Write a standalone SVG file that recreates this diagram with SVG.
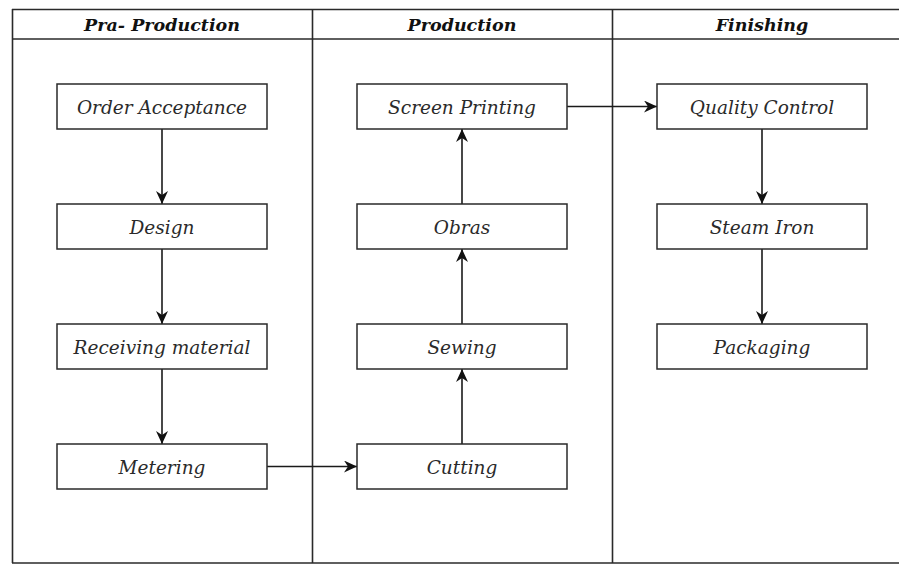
<svg xmlns="http://www.w3.org/2000/svg" width="899" height="565" viewBox="0 0 899 565">
<style>
.frame{stroke:#2a2a2a;stroke-width:1.6;fill:none}
.box{fill:#fff;stroke:#2a2a2a;stroke-width:1.5}
.lbl{font-family:"DejaVu Serif","Liberation Serif",serif;font-style:italic;font-size:18.5px;fill:#2a2a2a;text-anchor:middle}
.hdr{font-family:"DejaVu Serif","Liberation Serif",serif;font-style:italic;font-weight:bold;font-size:17.5px;fill:#111;text-anchor:middle}
.conn{stroke:#1a1a1a;stroke-width:1.6;fill:none;marker-end:url(#ah)}
</style>
<defs>
<marker id="ah" viewBox="0 0 13 12" refX="13" refY="6" markerWidth="13" markerHeight="12" markerUnits="userSpaceOnUse" orient="auto">
<path d="M0,0 L13,6 L0,12 L4,6 Z" fill="#111"/>
</marker>
</defs>
<rect width="899" height="565" fill="#fff"/>
<g id="table">
<line class="frame" x1="12" y1="9.5" x2="899" y2="9.5"/>
<line class="frame" x1="12" y1="39" x2="899" y2="39"/>
<line class="frame" x1="12" y1="563" x2="899" y2="563"/>
<line class="frame" x1="12.5" y1="9" x2="12.5" y2="563"/>
<line class="frame" x1="312.5" y1="9" x2="312.5" y2="563"/>
<line class="frame" x1="612.5" y1="9" x2="612.5" y2="563"/>
<text class="hdr" x="162" y="30.5">Pra- Production</text>
<text class="hdr" x="462" y="30.5">Production</text>
<text class="hdr" x="762" y="30.5">Finishing</text>
</g>
<g id="connectors">
<line class="conn" x1="162" y1="129" x2="162" y2="204"/>
<line class="conn" x1="162" y1="249" x2="162" y2="324"/>
<line class="conn" x1="162" y1="369" x2="162" y2="444"/>
<line class="conn" x1="267" y1="466.5" x2="357" y2="466.5"/>
<line class="conn" x1="462" y1="444" x2="462" y2="369"/>
<line class="conn" x1="462" y1="324" x2="462" y2="249"/>
<line class="conn" x1="462" y1="204" x2="462" y2="129"/>
<line class="conn" x1="567" y1="106.5" x2="657" y2="106.5"/>
<line class="conn" x1="762" y1="129" x2="762" y2="204"/>
<line class="conn" x1="762" y1="249" x2="762" y2="324"/>
</g>
<g id="n-order"><rect class="box" x="57" y="84" width="210" height="45"/><text class="lbl" x="162" y="114">Order Acceptance</text></g>
<g id="n-design"><rect class="box" x="57" y="204" width="210" height="45"/><text class="lbl" x="162" y="234">Design</text></g>
<g id="n-receiving"><rect class="box" x="57" y="324" width="210" height="45"/><text class="lbl" x="162" y="354">Receiving material</text></g>
<g id="n-metering"><rect class="box" x="57" y="444" width="210" height="45"/><text class="lbl" x="162" y="474">Metering</text></g>
<g id="n-screen"><rect class="box" x="357" y="84" width="210" height="45"/><text class="lbl" x="462" y="114">Screen Printing</text></g>
<g id="n-obras"><rect class="box" x="357" y="204" width="210" height="45"/><text class="lbl" x="462" y="234">Obras</text></g>
<g id="n-sewing"><rect class="box" x="357" y="324" width="210" height="45"/><text class="lbl" x="462" y="354">Sewing</text></g>
<g id="n-cutting"><rect class="box" x="357" y="444" width="210" height="45"/><text class="lbl" x="462" y="474">Cutting</text></g>
<g id="n-qc"><rect class="box" x="657" y="84" width="210" height="45"/><text class="lbl" x="762" y="114">Quality Control</text></g>
<g id="n-steam"><rect class="box" x="657" y="204" width="210" height="45"/><text class="lbl" x="762" y="234">Steam Iron</text></g>
<g id="n-packaging"><rect class="box" x="657" y="324" width="210" height="45"/><text class="lbl" x="762" y="354">Packaging</text></g>
</svg>
